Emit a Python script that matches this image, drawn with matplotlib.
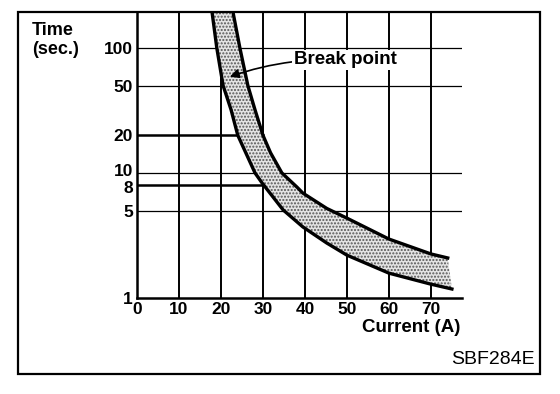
import matplotlib.pyplot as plt
from matplotlib.patches import Rectangle
from matplotlib.transforms import ScaledTranslation

plt.rcParams['font.family'] = ['Liberation Sans', 'DejaVu Sans']
plt.rcParams['hatch.color'] = '#555555'
plt.rcParams['hatch.linewidth'] = 1.0

# band boundaries (current in A, time in s)
lower_current = [17.9, 19.0, 20.5, 22.4, 24.0, 28.1, 29.8, 34.8, 39.5, 45.2, 50, 60, 70, 75]
lower_time = [190, 100, 50, 32, 20, 10, 8.3, 5.06, 3.7, 2.75, 2.2, 1.58, 1.29, 1.18]
upper_current = [22.9, 24.5, 26.4, 28.1, 30, 31.8, 34.5, 38.1, 39.5, 45.2, 50, 60, 70, 74]
upper_time = [190, 100, 50, 32, 20, 14.5, 10, 7.7, 6.9, 5.2, 4.35, 2.96, 2.25, 2.09]

x_ticks = [0, 10, 20, 30, 40, 50, 60, 70]
y_ticks = [1, 5, 8, 10, 20, 50, 100]
y_labels = ['1', '5', '8', '10', '20', '50', '100']
full_hlines = [100, 50, 10, 5]
short_hlines = [20, 8]
short_hline_end = 30
break_point = (22.1, 58.7)

fig = plt.figure(figsize=(5.6, 3.94), dpi=100)
ax = fig.add_axes([137 / 560, 96 / 394, 325 / 560, 285 / 394])

# grid
for xv in x_ticks[1:]:
    ax.axvline(xv, color='black', lw=1.4, zorder=1)
for yv in full_hlines:
    ax.axhline(yv, color='black', lw=0.9, zorder=1)
for yv in short_hlines:
    ax.plot([0, short_hline_end], [yv, yv], color='black', lw=1.8, zorder=1)

# shaded band
poly_x = upper_current + lower_current[::-1]
poly_y = upper_time + lower_time[::-1]
ax.fill(poly_x, poly_y, facecolor='#e4e4e4', hatch='.....', zorder=2)
ax.plot(lower_current, lower_time, color='black', lw=2.4, zorder=3)
ax.plot(upper_current, upper_time, color='black', lw=2.4, zorder=3)

ax.set_yscale('log')
ax.set_xlim(0, 77.4)
ax.set_ylim(1, 190)
ax.set_xticks(x_ticks)
ax.set_xticklabels([str(v) for v in x_ticks])
ax.set_yticks(y_ticks)
ax.set_yticklabels(y_labels)
ax.minorticks_off()
ax.tick_params(length=0, labelsize=12.5, pad=3)
for lab in ax.get_xticklabels() + ax.get_yticklabels():
    lab.set_fontweight('bold')
# the 10 and 8 labels sit tightly stacked
ylabs = ax.get_yticklabels()
ylabs[3].set_transform(ylabs[3].get_transform() + ScaledTranslation(0, 3 / 100, fig.dpi_scale_trans))
ylabs[2].set_transform(ylabs[2].get_transform() + ScaledTranslation(0, -2 / 100, fig.dpi_scale_trans))

for s in ['top', 'right']:
    ax.spines[s].set_visible(False)
for s in ['left', 'bottom']:
    ax.spines[s].set_linewidth(1.8)

ax.annotate('Break point', xy=break_point, xytext=(37.3, 80),
            fontsize=13.5, fontweight='bold', va='center', ha='left',
            bbox=dict(facecolor='white', edgecolor='none', pad=1),
            arrowprops=dict(arrowstyle='-|>', color='black', lw=1.2,
                            connectionstyle='arc3,rad=0.1', shrinkA=0, shrinkB=0),
            zorder=5)

fig.text(32 / 560, 1 - 22 / 394, 'Time\n(sec.)', fontsize=13, fontweight='bold',
         va='top', ha='left', linespacing=1.15)
fig.text(411 / 560, 1 - 328 / 394, 'Current (A)', fontsize=13.5, fontweight='bold',
         ha='center', va='center')
fig.text(535 / 560, 1 - 359 / 394, 'SBF284E', fontsize=14,
         ha='right', va='center')

fig.add_artist(Rectangle((18 / 560, 20 / 394), 522 / 560, 362 / 394,
                         transform=fig.transFigure, fill=False,
                         edgecolor='black', lw=1.6))

fig.savefig('out.png', dpi=100)
